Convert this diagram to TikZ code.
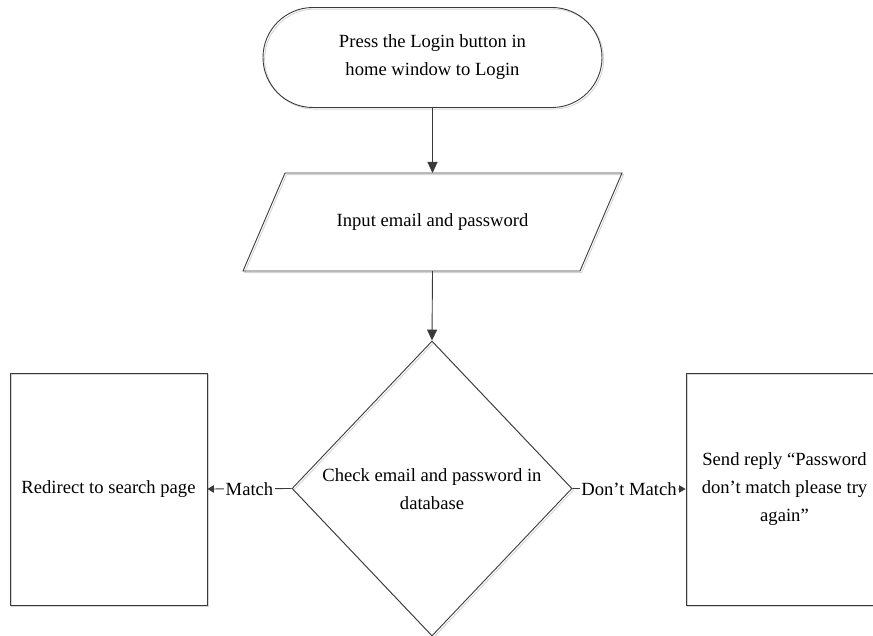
\documentclass[tikz,border=0pt]{standalone}
\usepackage{fontspec}
\setmainfont{Liberation Serif}
\usetikzlibrary{arrows.meta,shapes.geometric}
\definecolor{ink}{HTML}{3A3A3A}
\definecolor{shade}{HTML}{D4D4D4}

\begin{document}
\begin{tikzpicture}[x=1pt,y=-1pt,
  txt/.style={font=\fontsize{18.6}{28}\selectfont, align=center, text=black},
  shd/.style={preaction={draw=shade, line width=0.9pt,
      transform canvas={xshift=1.6pt,yshift=-1.6pt}}},
  outline/.style={draw=ink, line width=0.9pt, shd},
  flow/.style={draw=ink, line width=0.9pt, -{Triangle[length=11pt,width=10pt]}},
  branch/.style={draw=ink, line width=0.9pt, -{Triangle[length=6.5pt,width=7.5pt]}},
  tag/.style={txt, fill=white, inner sep=1.5pt}]
\useasboundingbox (0,0) rectangle (873,636);
\clip (0,0) rectangle (873,636);

% start terminator
\node[outline, txt, rectangle, rounded corners=50pt, minimum width=339pt,
  minimum height=100pt] (start) at (432.5,57.5)
  {Press the Login button in\\home window to Login};

% input parallelogram
\draw[outline] (285,173) -- (622,173) -- (580,271) -- (243,271) -- cycle;
\coordinate (inTop) at (432.5,173);
\coordinate (inBot) at (432.5,271);
\node[txt] (input) at (432.5,222) {Input email and password};

% decision
\node[outline, diamond, minimum width=280pt, minimum height=295pt,
  inner sep=0pt] (check) at (432,488.5) {};
\node[txt] (checktext) at (432,489.5) {Check email and password in\\database};

% outcome boxes
\node[outline, txt, rectangle, minimum width=197pt, minimum height=232pt]
  (redir) at (108.5,489) {Redirect to search page};
\node[outline, txt, rectangle, minimum width=197pt, minimum height=232pt]
  (send) at (784.5,489) {Send reply “Password\\don’t match please try\\again”};

% connectors
\draw[flow] (start.south) -- (inTop);
\draw[flow] (inBot) -- (check.north);
\draw[branch] (check.west) -- node[tag] {Match} (redir.east);
\draw[branch] (check.east) -- node[tag] {Don’t Match} (send.west);
\end{tikzpicture}
\end{document}
